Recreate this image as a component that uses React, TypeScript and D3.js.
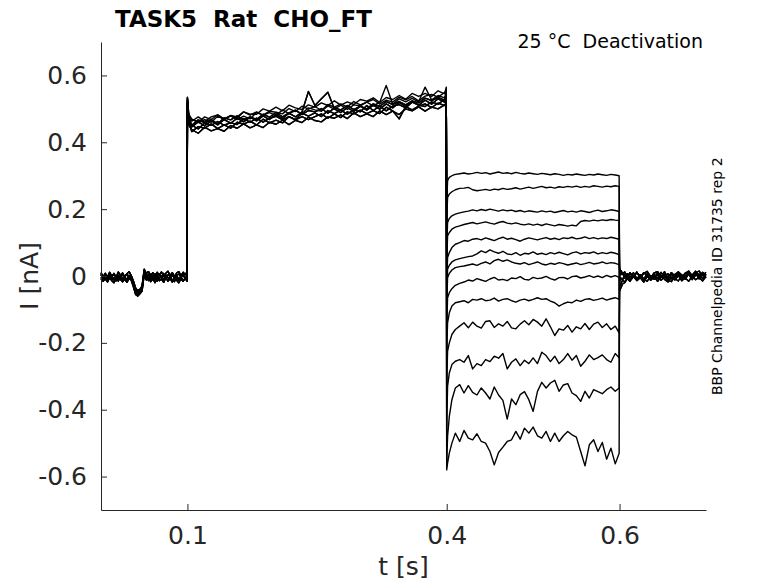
import { useEffect, useRef } from 'react';
import * as d3 from 'd3';

// ---- data (time in s, current in nA) ----

// holding segment, 0 .. 0.1 s
const HOLD_TIMES = [...d3.range(40).map(i => i * 0.0025), 0.0995];
const HOLD_SWEEPS = [
  [0.004, -0.009, 0.002, -0.011, 0.003, -0.006, -0.012, 0.001, -0.008, 0.004, -0.01, -0.002, -0.012, 0.002, -0.006, -0.025, -0.048, -0.052, -0.044, -0.038, 0.014, -0.002, 0.005, -0.009, 0.002, -0.011, 0.004, -0.007, 0.001, -0.012, 0.003, -0.005, -0.01, 0.004, -0.008, 0.002, -0.011, -0.003, 0.005, -0.009, 0.0],
  [-0.004, -0.016, -0.007, -0.018, -0.006, -0.014, -0.02, -0.008, -0.015, -0.004, -0.017, -0.009, -0.019, -0.007, -0.013, -0.032, -0.055, -0.06, -0.053, -0.045, 0.004, -0.012, -0.004, -0.017, -0.008, -0.02, -0.006, -0.014, -0.009, -0.019, -0.005, -0.015, -0.008, -0.018, -0.007, -0.013, -0.02, -0.009, -0.016, -0.005, -0.014],
  [0.01, -0.002, 0.008, -0.003, 0.011, 0.0, 0.006, -0.004, 0.012, 0.002, 0.009, -0.003, 0.007, 0.013, 0.001, -0.015, -0.036, -0.044, -0.04, -0.03, 0.02, 0.008, 0.013, 0.001, 0.01, -0.002, 0.011, 0.003, 0.012, -0.001, 0.008, 0.014, 0.002, 0.01, -0.002, 0.009, 0.013, 0.001, 0.011, 0.004, 0.012],
  [-0.012, -0.001, -0.01, -0.016, -0.003, -0.012, -0.005, -0.015, -0.002, -0.011, -0.017, -0.006, -0.013, -0.001, -0.01, -0.028, -0.05, -0.056, -0.049, -0.041, 0.009, -0.006, -0.014, -0.002, -0.012, -0.004, -0.016, -0.007, -0.001, -0.013, -0.005, -0.015, -0.003, -0.011, -0.017, -0.006, -0.012, -0.002, -0.014, -0.008, -0.016],
  [0.006, -0.006, 0.004, -0.008, 0.002, -0.004, 0.008, -0.005, 0.003, -0.009, 0.005, -0.002, 0.007, -0.007, 0.001, -0.02, -0.042, -0.048, -0.046, -0.036, 0.016, 0.002, -0.007, 0.006, -0.004, 0.007, -0.008, 0.003, -0.003, 0.008, -0.006, 0.004, -0.001, 0.007, -0.008, 0.002, 0.006, -0.005, 0.004, -0.007, 0.003],
];

// prepulse segment, 0.1 .. 0.4 s
const PRE_TIMES = [0.1, 0.1015, ...d3.range(40).map(i => 0.105 + i * 0.0075), 0.3995];
const PRE_SWEEPS = [
  [0.505, 0.452, 0.438, 0.427, 0.445, 0.434, 0.441, 0.433, 0.45, 0.442, 0.455, 0.443, 0.452, 0.444, 0.46, 0.454, 0.466, 0.453, 0.466, 0.459, 0.475, 0.465, 0.461, 0.476, 0.472, 0.482, 0.471, 0.488, 0.477, 0.485, 0.477, 0.494, 0.483, 0.493, 0.483, 0.5, 0.494, 0.506, 0.493, 0.505, 0.5, 0.512, 0.51],
  [0.515, 0.46, 0.432, 0.447, 0.442, 0.455, 0.441, 0.452, 0.442, 0.46, 0.454, 0.463, 0.452, 0.469, 0.458, 0.466, 0.458, 0.477, 0.467, 0.477, 0.468, 0.477, 0.485, 0.472, 0.485, 0.474, 0.491, 0.485, 0.496, 0.486, 0.495, 0.486, 0.505, 0.494, 0.47, 0.507, 0.497, 0.508, 0.515, 0.504, 0.517, 0.51, 0.52],
  [0.52, 0.465, 0.451, 0.44, 0.458, 0.451, 0.462, 0.451, 0.459, 0.453, 0.471, 0.46, 0.472, 0.46, 0.472, 0.478, 0.467, 0.477, 0.468, 0.487, 0.478, 0.488, 0.477, 0.495, 0.486, 0.496, 0.484, 0.498, 0.491, 0.51, 0.495, 0.508, 0.494, 0.508, 0.513, 0.503, 0.52, 0.511, 0.507, 0.521, 0.514, 0.528, 0.53],
  [0.525, 0.47, 0.446, 0.461, 0.449, 0.465, 0.452, 0.468, 0.457, 0.472, 0.461, 0.475, 0.464, 0.479, 0.468, 0.483, 0.471, 0.487, 0.476, 0.49, 0.552, 0.51, 0.53, 0.55, 0.5, 0.489, 0.504, 0.492, 0.508, 0.496, 0.511, 0.499, 0.515, 0.503, 0.519, 0.507, 0.523, 0.511, 0.526, 0.514, 0.53, 0.52, 0.535],
  [0.53, 0.475, 0.451, 0.467, 0.458, 0.468, 0.455, 0.473, 0.467, 0.479, 0.467, 0.476, 0.468, 0.484, 0.475, 0.489, 0.476, 0.488, 0.496, 0.483, 0.495, 0.491, 0.501, 0.487, 0.503, 0.497, 0.51, 0.498, 0.508, 0.5, 0.515, 0.507, 0.522, 0.513, 0.522, 0.512, 0.524, 0.518, 0.532, 0.525, 0.534, 0.526, 0.545],
  [0.532, 0.48, 0.469, 0.459, 0.468, 0.46, 0.478, 0.468, 0.479, 0.468, 0.478, 0.47, 0.489, 0.481, 0.489, 0.48, 0.497, 0.486, 0.495, 0.486, 0.503, 0.497, 0.493, 0.509, 0.499, 0.511, 0.498, 0.512, 0.509, 0.52, 0.509, 0.52, 0.57, 0.514, 0.53, 0.521, 0.531, 0.521, 0.565, 0.527, 0.54, 0.533, 0.55],
  [0.535, 0.482, 0.463, 0.476, 0.462, 0.476, 0.482, 0.47, 0.48, 0.472, 0.491, 0.481, 0.491, 0.481, 0.493, 0.49, 0.485, 0.501, 0.492, 0.508, 0.499, 0.507, 0.495, 0.513, 0.505, 0.515, 0.506, 0.522, 0.512, 0.52, 0.528, 0.514, 0.526, 0.52, 0.535, 0.527, 0.537, 0.524, 0.538, 0.543, 0.535, 0.549, 0.555],
  [0.534, 0.485, 0.469, 0.46, 0.476, 0.468, 0.482, 0.469, 0.48, 0.476, 0.491, 0.484, 0.484, 0.5, 0.493, 0.505, 0.494, 0.511, 0.503, 0.498, 0.512, 0.505, 0.518, 0.51, 0.524, 0.511, 0.521, 0.513, 0.528, 0.523, 0.533, 0.519, 0.534, 0.528, 0.54, 0.529, 0.546, 0.537, 0.546, 0.537, 0.554, 0.545, 0.565],
];

// tail (deactivation) segment, 0.4 .. 0.6 s, one row per sweep
const TAIL_TIMES = [0.4, 0.401, 0.403, 0.406, 0.41, ...d3.range(37).map(i => 0.415 + i * 0.005), 0.5995];
const TAIL_SWEEPS = [
  [0.22, 0.285, 0.295, 0.3, 0.304, 0.306, 0.308, 0.305, 0.307, 0.31, 0.307, 0.309, 0.305, 0.308, 0.311, 0.307, 0.309, 0.306, 0.31, 0.307, 0.305, 0.308, 0.306, 0.304, 0.307, 0.305, 0.303, 0.306, 0.304, 0.301, 0.304, 0.302, 0.305, 0.303, 0.301, 0.304, 0.302, 0.305, 0.303, 0.301, 0.304, 0.302, 0.3],
  [0.17, 0.235, 0.245, 0.252, 0.258, 0.262, 0.263, 0.265, 0.258, 0.255, 0.257, 0.259, 0.256, 0.26, 0.258, 0.262, 0.259, 0.261, 0.264, 0.26, 0.263, 0.266, 0.262, 0.265, 0.268, 0.264, 0.266, 0.263, 0.267, 0.265, 0.268, 0.266, 0.269, 0.265, 0.268, 0.266, 0.27, 0.268, 0.266, 0.269, 0.267, 0.27, 0.268],
  [0.09, 0.16, 0.172, 0.18, 0.185, 0.189, 0.192, 0.194, 0.198, 0.195, 0.199, 0.196, 0.2, 0.197, 0.194, 0.198, 0.195, 0.197, 0.193, 0.196, 0.192, 0.195, 0.193, 0.191, 0.195, 0.192, 0.194, 0.19, 0.193, 0.196, 0.192, 0.194, 0.191, 0.195, 0.193, 0.19, 0.194, 0.197, 0.193, 0.195, 0.198, 0.196, 0.193],
  [0.04, 0.12, 0.13, 0.14, 0.146, 0.15, 0.154, 0.157, 0.16, 0.156, 0.159, 0.162, 0.158, 0.155, 0.16, 0.163, 0.158, 0.156, 0.159, 0.155, 0.153, 0.156, 0.152, 0.155, 0.151, 0.156, 0.153, 0.15, 0.154, 0.152, 0.149, 0.152, 0.15, 0.163, 0.166, 0.164, 0.167, 0.165, 0.168, 0.166, 0.169, 0.167, 0.166],
  [-0.02, 0.055, 0.07, 0.085, 0.095, 0.1, 0.106, 0.104, 0.11, 0.112, 0.108, 0.114, 0.11, 0.106, 0.112, 0.116, 0.11, 0.113, 0.109, 0.104, 0.11, 0.114, 0.111, 0.108, 0.112, 0.115, 0.11, 0.113, 0.109, 0.114, 0.112, 0.116, 0.111, 0.113, 0.117, 0.112, 0.115, 0.111, 0.114, 0.112, 0.116, 0.113, 0.11],
  [-0.05, 0.02, 0.032, 0.042, 0.048, 0.052, 0.055, 0.058, 0.06, 0.066, 0.075, 0.07, 0.078, 0.072, 0.068, 0.074, 0.066, 0.064, 0.07, 0.062, 0.068, 0.066, 0.072, 0.065, 0.068, 0.064, 0.07, 0.066, 0.071, 0.067, 0.063, 0.069, 0.072, 0.066, 0.07, 0.068, 0.072, 0.066, 0.07, 0.067, 0.071, 0.068, 0.064],
  [-0.08, -0.005, 0.008, 0.018, 0.025, 0.028, 0.03, 0.033, 0.036, 0.032, 0.038, 0.042, 0.036, 0.046, 0.05, 0.044, 0.048, 0.042, 0.038, 0.036, 0.04, 0.034, 0.038, 0.042, 0.036, 0.033, 0.038, 0.035, 0.04, 0.037, 0.033, 0.036, 0.039, 0.034, 0.037, 0.041, 0.036, 0.038, 0.042, 0.037, 0.04, 0.038, 0.034],
  [-0.14, -0.065, -0.05, -0.038, -0.028, -0.022, -0.018, -0.012, -0.015, -0.008, -0.012, -0.016, -0.009, -0.004, -0.012, -0.01, -0.014, -0.006, -0.008, -0.002, -0.01, -0.012, -0.004, -0.008, -0.006, -0.001, -0.008, -0.012, -0.005, -0.004, -0.009, -0.002, 0.0, -0.006, -0.003, 0.001, -0.004, 0.0, -0.005, 0.002, -0.003, 0.001, -0.004],
  [-0.22, -0.14, -0.11, -0.09, -0.08, -0.077, -0.074, -0.08, -0.07, -0.072, -0.068, -0.074, -0.072, -0.066, -0.075, -0.07, -0.068, -0.074, -0.078, -0.072, -0.069, -0.074, -0.07, -0.065, -0.07, -0.068, -0.075, -0.08, -0.09, -0.083, -0.078, -0.08, -0.072, -0.076, -0.07, -0.068, -0.073, -0.07, -0.066, -0.072, -0.068, -0.065, -0.07],
  [-0.32, -0.225, -0.2, -0.175, -0.16, -0.15, -0.14, -0.155, -0.138, -0.15, -0.156, -0.136, -0.134, -0.154, -0.143, -0.15, -0.136, -0.155, -0.158, -0.144, -0.134, -0.146, -0.13, -0.138, -0.15, -0.128, -0.152, -0.178, -0.158, -0.162, -0.148, -0.168, -0.152, -0.158, -0.142, -0.16, -0.144, -0.138, -0.154, -0.143, -0.16, -0.15, -0.17],
  [-0.45, -0.33, -0.29, -0.265, -0.255, -0.25, -0.258, -0.238, -0.278, -0.262, -0.268, -0.25, -0.256, -0.24, -0.246, -0.232, -0.278, -0.258, -0.248, -0.268, -0.252, -0.262, -0.245, -0.262, -0.228, -0.238, -0.256, -0.24, -0.262, -0.25, -0.232, -0.252, -0.238, -0.27, -0.255, -0.236, -0.25, -0.244, -0.236, -0.25, -0.258, -0.232, -0.245],
  [-0.56, -0.48, -0.42, -0.37, -0.335, -0.325, -0.35, -0.328, -0.348, -0.356, -0.335, -0.35, -0.368, -0.332, -0.356, -0.372, -0.428, -0.368, -0.385, -0.355, -0.346, -0.37, -0.405, -0.345, -0.318, -0.335, -0.32, -0.312, -0.345, -0.326, -0.322, -0.35, -0.358, -0.375, -0.345, -0.365, -0.34, -0.346, -0.352, -0.34, -0.332, -0.345, -0.335],
  [-0.58, -0.56, -0.53, -0.5, -0.47, -0.495, -0.462, -0.485, -0.49, -0.472, -0.495, -0.5, -0.525, -0.565, -0.528, -0.512, -0.495, -0.49, -0.465, -0.488, -0.455, -0.47, -0.452, -0.478, -0.485, -0.465, -0.495, -0.47, -0.495, -0.478, -0.465, -0.475, -0.482, -0.525, -0.568, -0.505, -0.49, -0.525, -0.498, -0.548, -0.515, -0.562, -0.53],
];

// post-tail holding segment, 0.6 .. 0.7 s
const POST_TIMES = [0.6, 0.6015, 0.6035, 0.606, 0.609, ...d3.range(23).map(i => 0.612 + i * 0.004)];
const POST_SWEEPS = [
  [0.02, 0.016, 0.008, 0.012, -0.002, 0.009, -0.004, 0.011, -0.003, 0.01, 0.001, -0.006, 0.009, 0.013, -0.002, 0.006, -0.005, 0.01, 0.0, 0.012, 0.003, -0.004, 0.011, 0.002, 0.014, -0.001, 0.009, 0.004],
  [-0.045, -0.036, -0.024, -0.02, -0.008, -0.016, -0.002, -0.013, -0.005, -0.017, 0.001, -0.012, -0.004, -0.015, 0.002, -0.01, -0.018, -0.003, -0.012, 0.001, -0.014, -0.006, -0.016, 0.0, -0.011, -0.004, -0.015, -0.002],
  [0.01, 0.004, 0.009, -0.006, 0.007, -0.005, 0.01, -0.008, 0.004, -0.01, 0.008, -0.003, 0.006, -0.007, 0.011, -0.002, 0.007, -0.009, 0.005, 0.012, -0.004, 0.009, 0.015, -0.001, 0.008, -0.005, 0.011, 0.002],
  [-0.03, -0.025, -0.012, -0.018, -0.004, -0.014, 0.002, -0.011, 0.004, -0.009, -0.016, 0.001, -0.01, 0.005, -0.013, -0.002, -0.012, 0.006, -0.008, -0.015, 0.003, -0.01, 0.007, -0.006, 0.008, -0.009, 0.004, -0.005],
  [-0.015, -0.006, -0.012, 0.006, -0.008, 0.01, -0.004, 0.012, -0.007, 0.008, 0.014, -0.002, -0.009, 0.01, -0.003, 0.013, -0.006, 0.009, -0.004, 0.008, -0.01, 0.006, 0.012, -0.005, 0.009, 0.015, 0.001, 0.011],
  [0.025, 0.012, 0.008, -0.006, -0.002, -0.012, 0.001, -0.014, -0.004, -0.018, -0.001, -0.013, 0.0, -0.016, -0.003, 0.002, -0.012, -0.017, -0.002, 0.003, -0.014, -0.001, 0.005, -0.011, 0.002, 0.006, -0.008, 0.004],
];

const X_TICKS = [0.1, 0.4, 0.6];
const Y_TICKS = [-0.6, -0.4, -0.2, 0, 0.2, 0.4, 0.6];
const X_DOMAIN: [number, number] = [0, 0.7];
const Y_DOMAIN: [number, number] = [-0.7, 0.7];

const TITLE = 'TASK5  Rat  CHO_FT';
const CONDITION = '25 °C  Deactivation';
const SIDE_NOTE = 'BBP Channelpedia ID 31735 rep 2';

const W = 778;
const H = 583;
const PLOT = { left: 101, right: 706, top: 42, bottom: 510 };
const FONT = 'DejaVu Sans, Verdana, sans-serif';
const AXIS_COLOUR = '#262626';

type Pt = { t: number; v: number };

function segment(times: number[], values: number[]): Pt[] {
  const n = Math.min(times.length, values.length);
  return d3.range(n).map(i => ({ t: times[i], v: values[i] }));
}

export default function App() {
  const xAxisRef = useRef<SVGGElement>(null);
  const yAxisRef = useRef<SVGGElement>(null);

  const x = d3.scaleLinear().domain(X_DOMAIN).range([PLOT.left, PLOT.right]);
  const y = d3.scaleLinear().domain(Y_DOMAIN).range([PLOT.bottom, PLOT.top]);

  const line = d3.line<Pt>()
    .x(d => x(d.t))
    .y(d => y(d.v));

  // each sweep = holding + prepulse + tail + post
  const sweeps = TAIL_SWEEPS.map((tail, i) => [
    ...segment(HOLD_TIMES, HOLD_SWEEPS[i % HOLD_SWEEPS.length]),
    ...segment(PRE_TIMES, PRE_SWEEPS[i % PRE_SWEEPS.length]),
    ...segment(TAIL_TIMES, tail),
    ...segment(POST_TIMES, POST_SWEEPS[i % POST_SWEEPS.length]),
  ]);

  useEffect(() => {
    if (!xAxisRef.current || !yAxisRef.current) return;

    d3.select(xAxisRef.current)
      .call(
        d3.axisBottom(x)
          .tickValues(X_TICKS)
          .tickFormat(d => String(d))
          .tickSizeInner(-6)
          .tickSizeOuter(0)
          .tickPadding(16)
      )
      .call(g => g.select('.domain').attr('stroke', AXIS_COLOUR))
      .call(g => g.selectAll('.tick line').attr('stroke', AXIS_COLOUR))
      .call(g => g.selectAll('.tick text')
        .attr('font-family', FONT)
        .attr('font-size', '25px')
        .attr('fill', AXIS_COLOUR)
      );

    d3.select(yAxisRef.current)
      .call(
        d3.axisLeft(y)
          .tickValues(Y_TICKS)
          .tickFormat(d => String(d))
          .tickSizeInner(-6)
          .tickSizeOuter(0)
          .tickPadding(14)
      )
      .call(g => g.select('.domain').attr('stroke', AXIS_COLOUR))
      .call(g => g.selectAll('.tick line').attr('stroke', AXIS_COLOUR))
      .call(g => g.selectAll('.tick text')
        .attr('font-family', FONT)
        .attr('font-size', '25px')
        .attr('fill', AXIS_COLOUR)
      );
  }, []);

  const midX = (PLOT.left + PLOT.right) / 2;
  const midY = (PLOT.top + PLOT.bottom) / 2;

  return (
    <svg
      width={W}
      height={H}
      style={{ position: 'absolute', left: 0, top: 0, background: '#fff' }}
    >
      <rect x={0} y={0} width={W} height={H} fill="#fff" />

      {sweeps.map((s, i) => (
        <path key={i} d={line(s) ?? ''} fill="none" stroke="#000" strokeWidth={1.4} strokeLinejoin="round" />
      ))}

      <g ref={yAxisRef} transform={`translate(${PLOT.left},0)`} />
      <g ref={xAxisRef} transform={`translate(0,${PLOT.bottom})`} />

      <text x={115} y={27} fontFamily={FONT} fontWeight="bold" fontSize={23} fill="#000" style={{ whiteSpace: 'pre' }}>
        {TITLE}
      </text>
      <text x={703} y={48} textAnchor="end" fontFamily={FONT} fontSize={19} fill="#000" style={{ whiteSpace: 'pre' }}>
        {CONDITION}
      </text>
      <text
        transform={`translate(722,395) rotate(-90)`}
        fontFamily={FONT}
        fontSize={14}
        fill="#000"
      >
        {SIDE_NOTE}
      </text>

      <text x={midX} y={575} textAnchor="middle" fontFamily={FONT} fontSize={25} fill={AXIS_COLOUR}>
        t [s]
      </text>
      <text
        transform={`translate(38,${midY}) rotate(-90)`}
        textAnchor="middle"
        fontFamily={FONT}
        fontSize={25}
        fill={AXIS_COLOUR}
      >
        I [nA]
      </text>
    </svg>
  );
}
